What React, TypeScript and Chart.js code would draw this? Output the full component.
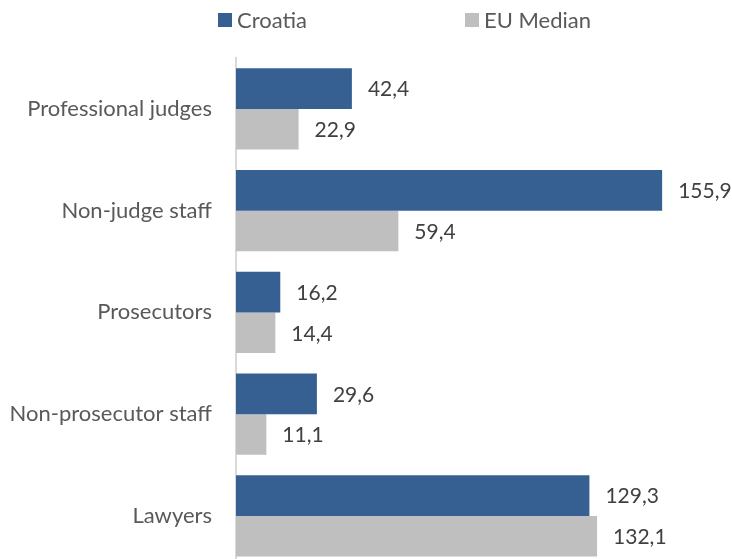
import React, { useEffect, useRef } from "react";
import { Chart, registerables } from "chart.js";

Chart.register(...registerables);

const categories = ["Professional judges", "Non-judge staff", "Prosecutors", "Non-prosecutor staff", "Lawyers"];
const croatia = [42.4, 155.9, 16.2, 29.6, 129.3];
const euMedian = [22.9, 59.4, 14.4, 11.1, 132.1];
const seriesNames = ["Croatia", "EU Median"];
const seriesColors = ["#376092", "#bfbfbf"];

const FONT = "Lato, 'Open Sans', sans-serif";

const valueLabels = {
  id: "valueLabels",
  afterDatasetsDraw(chart: any) {
    const ctx = chart.ctx;
    ctx.save();
    ctx.font = `21px ${FONT}`;
    ctx.fillStyle = "#404040";
    ctx.textAlign = "left";
    ctx.textBaseline = "middle";
    chart.data.datasets.forEach((ds: any, di: number) => {
      const meta = chart.getDatasetMeta(di);
      meta.data.forEach((el: any, i: number) => {
        const v = ds.data[i] as number;
        ctx.fillText(v.toFixed(1).replace(".", ","), el.x + 16, el.y + 1);
      });
    });
    ctx.restore();
  },
};

export default function App() {
  const ref = useRef<HTMLCanvasElement | null>(null);
  useEffect(() => {
    if (!ref.current) return;
    const chart = new Chart(ref.current, {
      type: "bar",
      data: {
        labels: categories,
        datasets: [
          { label: seriesNames[0], data: croatia, backgroundColor: seriesColors[0], borderWidth: 0 },
          { label: seriesNames[1], data: euMedian, backgroundColor: seriesColors[1], borderWidth: 0 },
        ],
      },
      options: {
        indexAxis: "y",
        responsive: false,
        animation: false,
        layout: { padding: { top: 58, bottom: 0, left: 0, right: 4 } },
        datasets: { bar: { barPercentage: 1, categoryPercentage: 0.8 } },
        plugins: { legend: { display: false }, tooltip: { enabled: false } },
        scales: {
          x: { display: false, min: 0, max: 180 },
          y: {
            afterFit: (s: any) => { s.width = 236; },
            grid: { display: false, drawTicks: false },
            border: { display: true, color: "#d9d9d9", width: 2 },
            ticks: { color: "#595959", padding: 24, font: { family: FONT, size: 22 } },
          },
        },
      },
      plugins: [valueLabels],
    });
    return () => chart.destroy();
  }, []);

  const legendItem = (name: string, color: string, left: number) => (
    <div style={{ position: "absolute", left, top: 6, display: "flex", alignItems: "center", fontFamily: FONT, fontSize: 22, color: "#595959", lineHeight: "28px" }}>
      <span style={{ display: "inline-block", width: 14, height: 14, background: color, marginRight: 5 }} />
      <span>{name}</span>
    </div>
  );

  return (
    <div style={{ position: "fixed", left: 0, top: 0, width: 732, height: 559, overflow: "hidden", background: "#fff" }}>
      <canvas ref={ref} width={732} height={604} style={{ display: "block" }} />
      {legendItem(seriesNames[0], seriesColors[0], 218)}
      {legendItem(seriesNames[1], seriesColors[1], 465)}
    </div>
  );
}
